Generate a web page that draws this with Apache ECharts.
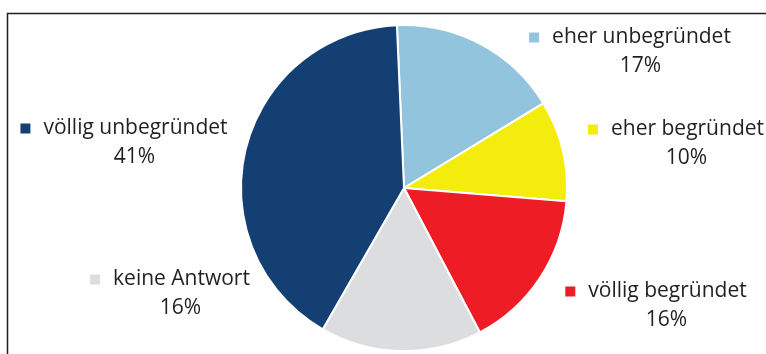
<!DOCTYPE html>
<html>
<head>
<meta charset="utf-8">
<script src="https://cdn.jsdelivr.net/npm/echarts@6/dist/echarts.min.js"></script>
<style>html,body{margin:0;padding:0;background:#fff}#c{width:766px;height:354px}</style>
</head>
<body>
<div id="c"></div>
<script>
const categories = ['eher unbegründet', 'eher begründet', 'völlig begründet', 'keine Antwort', 'völlig unbegründet'];
const values = [17, 10, 16, 16, 41];
const percentLabels = ['17%', '10%', '16%', '16%', '41%'];
const colors = ['#92c4de', '#f4ec0d', '#ee1d25', '#dcdddf', '#133f73'];
const labelPos = [[630, 23], [676, 115], [656, 277], [170, 265], [124, 114]];

const chart = echarts.init(document.getElementById('c'), null, {renderer: 'canvas'});
const FONT = '"Open Sans", "Noto Sans", sans-serif';
chart.setOption({
  animation: false,
  graphic: [{
    type: 'polyline',
    shape: {points: [[7.5, 354], [7.5, 13.5], [766, 13.5]]},
    style: {stroke: '#231f20', lineWidth: 1.5, fill: null},
    z: 0
  }],
  series: [{
    type: 'pie',
    center: [404, 188],
    radius: 163,
    startAngle: 92.5,
    clockwise: true,
    avoidLabelOverlap: false,
    itemStyle: {borderColor: '#fff', borderWidth: 2},
    emphasis: {disabled: true},
    labelLine: {show: false},
    data: categories.map((n, i) => ({
      name: n,
      value: values[i],
      itemStyle: {color: colors[i]},
      label: {
        rich: {
          sq: {width: 10, height: 10, backgroundColor: colors[i]}
        }
      }
    })),
    label: {
      show: true,
      position: 'outside',
      fontFamily: FONT,
      fontSize: 21,
      color: '#231f20',
      lineHeight: 29,
      align: 'center',
      formatter: p => '{sq|}{gap|}{n|' + p.name + '}\n{sp|}{p|' + percentLabels[p.dataIndex] + '}',
      rich: {
        gap: {width: 13},
        sp: {width: 21},
        n: {fontFamily: FONT, fontSize: 21, color: '#231f20', lineHeight: 29},
        p: {fontFamily: FONT, fontSize: 21, color: '#231f20', lineHeight: 29}
      }
    },
    labelLayout: p => ({
      x: labelPos[p.dataIndex][0],
      y: labelPos[p.dataIndex][1],
      align: 'center',
      verticalAlign: 'top'
    })
  }]
});
</script>
</body>
</html>
